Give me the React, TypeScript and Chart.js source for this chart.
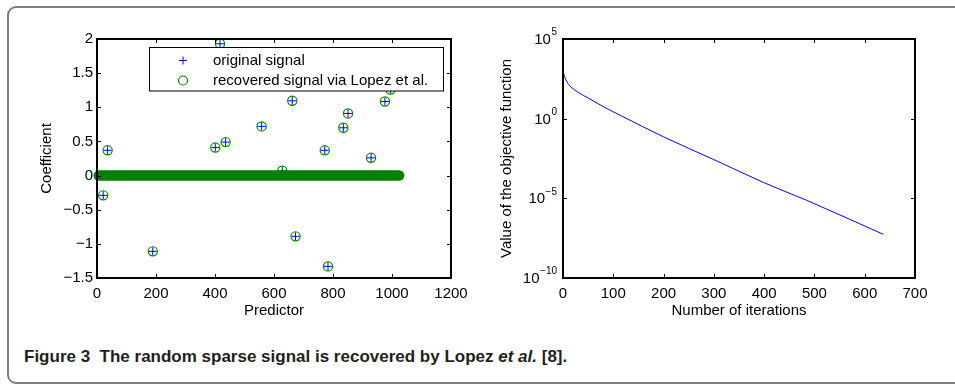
import React, { useEffect, useRef } from "react";
import { Chart, registerables } from "chart.js";
Chart.register(...registerables);

const FONT = '"Liberation Sans", Arial, Helvetica, sans-serif';
const BLUE = "#0000ff";
const GREEN = "#008000";

// ---- Left panel: sparse signal ----
const bandStart = 6;
const bandEnd = 1024;
const spikeIndex = [21, 36, 189, 401, 417, 436, 558, 628, 662, 673, 772, 783, 835, 851, 929, 976, 995];
const originalValues = [-0.29, 0.37, -1.11, 0.41, 1.93, 0.49, 0.72, 0.07, 1.095, -0.89, 0.37, -1.33, 0.7, 0.91, 0.26, 1.085, 1.26];
const recoveredValues = [-0.29, 0.37, -1.11, 0.41, 1.93, 0.49, 0.72, 0.07, 1.095, -0.89, 0.37, -1.33, 0.7, 0.91, 0.26, 1.085, 1.26];
const leftXTicks = [0, 200, 400, 600, 800, 1000, 1200];
const leftYTicks = [-1.5, -1, -0.5, 0, 0.5, 1, 1.5, 2];
const legendLabels = ["original signal", "recovered signal via Lopez et al."];

// ---- Right panel: objective function ----
const iterations = [0, 2, 5, 10, 18, 30, 51, 84, 117, 200, 300, 399, 485, 637];
const objectiveValues = [1.1e3, 5.6e2, 3.2e2, 1.6e2, 8.5e1, 4.5e1, 1.9e1, 4.9, 1.45, 7.2e-2, 2.7e-3, 9.8e-5, 7.4e-6, 5.5e-8];
const rightXTicks = [0, 100, 200, 300, 400, 500, 600, 700];
const rightYTicks = [1e-10, 1e-5, 1, 1e5];

const fmt = (v: number) => (v < 0 ? "\u2212" + String(-v) : String(v));

function boxAndTicks(chart: any) {
  const { ctx, chartArea: a, scales } = chart;
  const xs = scales.x, ys = scales.y;
  ctx.save();
  ctx.strokeStyle = "#000";
  ctx.lineWidth = 1;
  const tl = 4;
  ctx.beginPath();
  xs.ticks.forEach((t: any) => {
    const px = Math.round(xs.getPixelForValue(t.value)) + 0.5;
    ctx.moveTo(px, a.bottom); ctx.lineTo(px, a.bottom - tl);
    ctx.moveTo(px, a.top); ctx.lineTo(px, a.top + tl);
  });
  ys.ticks.forEach((t: any) => {
    const py = Math.round(ys.getPixelForValue(t.value)) + 0.5;
    ctx.moveTo(a.left, py); ctx.lineTo(a.left + tl, py);
    ctx.moveTo(a.right, py); ctx.lineTo(a.right - tl, py);
  });
  ctx.stroke();
  ctx.lineWidth = 2;
  ctx.strokeRect(Math.round(a.left), Math.round(a.top), Math.round(a.right - a.left), Math.round(a.bottom - a.top));
  ctx.restore();
}

const leftPlugin = {
  id: "leftDecor",
  afterDatasetsDraw(chart: any) {
    boxAndTicks(chart);
    const { ctx } = chart;
    ctx.save();
    const bx = 149.5, by = 47.5, bw = 294, bh = 43.5;
    ctx.fillStyle = "#fff";
    ctx.fillRect(bx, by, bw, bh);
    ctx.strokeStyle = "#000";
    ctx.lineWidth = 1;
    ctx.strokeRect(bx, by, bw, bh);
    ctx.strokeStyle = BLUE;
    ctx.beginPath();
    ctx.moveTo(179, 60.5); ctx.lineTo(187, 60.5);
    ctx.moveTo(183, 56.5); ctx.lineTo(183, 64.5);
    ctx.stroke();
    ctx.strokeStyle = GREEN;
    ctx.lineWidth = 1.2;
    ctx.beginPath();
    ctx.arc(183, 80.5, 4.5, 0, Math.PI * 2);
    ctx.stroke();
    ctx.fillStyle = "#000";
    ctx.font = `15px ${FONT}`;
    ctx.textBaseline = "middle";
    ctx.textAlign = "left";
    ctx.fillText(legendLabels[0], 213, 61);
    ctx.fillText(legendLabels[1], 213, 81);
    ctx.restore();
  },
};

const rightPlugin = {
  id: "rightDecor",
  afterDatasetsDraw(chart: any) {
    boxAndTicks(chart);
    const { ctx, chartArea: a, scales } = chart;
    const ys = scales.y;
    ctx.save();
    ctx.fillStyle = "#000";
    ctx.textBaseline = "middle";
    ctx.textAlign = "right";
    rightYTicks.forEach((v) => {
      const py = ys.getPixelForValue(v);
      const e = Math.round(Math.log10(v));
      const es = e < 0 ? "\u2212" + String(-e) : String(e);
      const right = a.left - 6;
      ctx.font = `10px ${FONT}`;
      const ew = ctx.measureText(es).width;
      ctx.fillText(es, right, py - 6.5);
      ctx.font = `15px ${FONT}`;
      ctx.fillText("10", right - ew - 0.5, py + 1);
    });
    ctx.restore();
  },
};

function LeftChart() {
  const ref = useRef<HTMLCanvasElement>(null);
  useEffect(() => {
    const spikesOrig = spikeIndex.map((x, i) => ({ x, y: originalValues[i] }));
    const spikesRec = spikeIndex.map((x, i) => ({ x, y: recoveredValues[i] }));
    const band = [{ x: bandStart, y: 0 }, { x: bandEnd, y: 0 }];
    const chart = new Chart(ref.current!, {
      type: "scatter",
      data: {
        datasets: [
          {
            label: legendLabels[1],
            data: spikesRec,
            pointStyle: "circle",
            pointRadius: 4.6,
            pointBorderWidth: 1.2,
            borderColor: GREEN,
            backgroundColor: "rgba(0,0,0,0)",
            showLine: false,
            clip: false,
          } as any,
          {
            label: "zero",
            data: band,
            showLine: true,
            pointRadius: 0,
            borderWidth: 10.5,
            borderColor: GREEN,
            borderCapStyle: "round",
            clip: false,
          } as any,
          {
            label: legendLabels[0],
            data: spikesOrig,
            pointStyle: "cross",
            pointRadius: 4,
            pointBorderWidth: 1,
            borderColor: BLUE,
            backgroundColor: BLUE,
            showLine: false,
            clip: false,
          } as any,
        ],
      },
      options: {
        animation: false,
        responsive: false,
        events: [],
        layout: { padding: { left: 34, top: 39, right: 26, bottom: 6 } },
        plugins: { legend: { display: false }, tooltip: { enabled: false } },
        scales: {
          x: {
            type: "linear",
            min: 0,
            max: 1200,
            afterBuildTicks: (s: any) => { s.ticks = leftXTicks.map((v) => ({ value: v })); },
            afterFit: (s: any) => { s.height = 46; },
            grid: { display: false, drawTicks: false },
            border: { display: false },
            ticks: { color: "#000", font: { family: FONT, size: 15 }, padding: 7, maxRotation: 0, callback: (v: any) => fmt(Number(v)) },
            title: { display: true, text: "Predictor", color: "#000", font: { family: FONT, size: 15 } },
          },
          y: {
            type: "linear",
            min: -1.5,
            max: 2,
            afterBuildTicks: (s: any) => { s.ticks = leftYTicks.map((v) => ({ value: v })); },
            afterFit: (s: any) => { s.width = 63; },
            grid: { display: false, drawTicks: false },
            border: { display: false },
            ticks: { color: "#000", font: { family: FONT, size: 15 }, padding: 4, callback: (v: any) => fmt(Number(v)) },
            title: { display: true, text: "Coefficient", color: "#000", font: { family: FONT, size: 15 } },
          },
        },
      } as any,
      plugins: [leftPlugin],
    });
    return () => chart.destroy();
  }, []);
  return <canvas ref={ref} width={477} height={330} style={{ position: "absolute", left: 0, top: 0 }} />;
}

function RightChart() {
  const ref = useRef<HTMLCanvasElement>(null);
  useEffect(() => {
    const chart = new Chart(ref.current!, {
      type: "line",
      data: {
        datasets: [
          {
            label: "objective",
            data: iterations.map((x, i) => ({ x, y: objectiveValues[i] })),
            borderColor: BLUE,
            borderWidth: 1,
            pointRadius: 0,
            cubicInterpolationMode: "monotone",
            fill: false,
          } as any,
        ],
      },
      options: {
        animation: false,
        responsive: false,
        events: [],
        layout: { padding: { left: 17, top: 39, right: 40, bottom: 6 } },
        plugins: { legend: { display: false }, tooltip: { enabled: false } },
        scales: {
          x: {
            type: "linear",
            min: 0,
            max: 700,
            afterBuildTicks: (s: any) => { s.ticks = rightXTicks.map((v) => ({ value: v })); },
            afterFit: (s: any) => { s.height = 46; },
            grid: { display: false, drawTicks: false },
            border: { display: false },
            ticks: { color: "#000", font: { family: FONT, size: 15 }, padding: 7, maxRotation: 0 },
            title: { display: true, text: "Number of iterations", color: "#000", font: { family: FONT, size: 15 } },
          },
          y: {
            type: "logarithmic",
            min: 1e-10,
            max: 1e5,
            afterBuildTicks: (s: any) => { s.ticks = rightYTicks.map((v) => ({ value: v })); },
            afterFit: (s: any) => { s.width = 69; },
            grid: { display: false, drawTicks: false },
            border: { display: false },
            ticks: { display: false },
            title: { display: true, text: "Value of the objective function", color: "#000", font: { family: FONT, size: 15 } },
          },
        },
      } as any,
      plugins: [rightPlugin],
    });
    return () => chart.destroy();
  }, []);
  return <canvas ref={ref} width={478} height={330} style={{ position: "absolute", left: 477, top: 0 }} />;
}

export default function App() {
  return (
    <div style={{ position: "fixed", left: 0, top: 0, width: 955, height: 384, overflow: "hidden", background: "#fff" }}>
      <div
        style={{
          position: "absolute",
          left: 7,
          top: 6,
          width: 1000,
          height: 378,
          border: "2px solid #7d7d7d",
          borderRadius: 9,
          boxSizing: "border-box",
        }}
      />
      <LeftChart />
      <RightChart />
      <div
        style={{
          position: "absolute",
          left: 24,
          top: 347,
          whiteSpace: "pre",
          fontFamily: '"Liberation Sans", Arial, sans-serif',
          fontWeight: "bold",
          fontSize: 17,
          lineHeight: "20px",
          color: "#231f20",
        }}
      >
        {"Figure 3  The random sparse signal is recovered by Lopez "}
        <i>et al.</i>
        {" [8]."}
      </div>
    </div>
  );
}
